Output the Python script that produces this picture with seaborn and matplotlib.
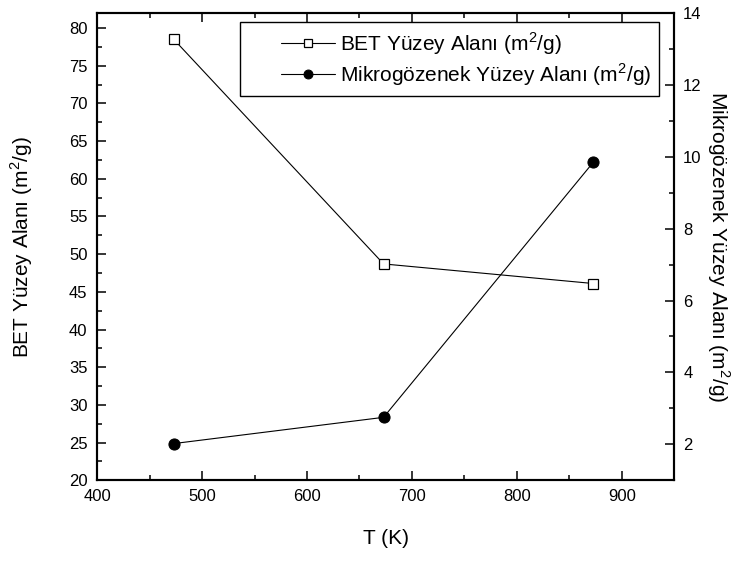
import numpy as np
import pandas as pd
import seaborn as sns
import matplotlib.pyplot as plt
from matplotlib.lines import Line2D
from matplotlib.legend_handler import HandlerLine2D
from matplotlib.ticker import MultipleLocator

sns.set_style("ticks")
plt.rcParams['font.family'] = ['Liberation Sans', 'DejaVu Sans']
plt.rcParams['mathtext.fontset'] = 'custom'
plt.rcParams['mathtext.rm'] = 'Liberation Sans'
plt.rcParams['text.color'] = 'black'
plt.rcParams['axes.labelcolor'] = 'black'
plt.rcParams['xtick.color'] = 'black'
plt.rcParams['ytick.color'] = 'black'

# Veriler
sicaklik = [473, 673, 873]
bet_alan = [78.5, 48.7, 46.1]
mikro_alan = [2.02, 2.75, 9.85]

df = pd.DataFrame({"T": sicaklik, "BET": bet_alan, "Mikro": mikro_alan})


# Origin tarzı lejant: çizgi kutunun solundan biraz içeride başlasın
class SagaKayikHandler(HandlerLine2D):
    def create_artists(self, legend, orig_handle, xdescent, ydescent,
                       width, height, fontsize, trans):
        kayma = 1.6 * fontsize
        return super().create_artists(legend, orig_handle, xdescent - kayma,
                                      ydescent, width - kayma, height,
                                      fontsize, trans)


fig = plt.figure(figsize=(7.36, 5.63), dpi=100)
ax = fig.add_axes([0.132, 0.147, 0.784, 0.830])
ax2 = ax.twinx()

sns.lineplot(data=df, x="T", y="BET", ax=ax, color="black", lw=0.8,
             marker="s", markersize=7, markerfacecolor="white",
             markeredgecolor="black", markeredgewidth=0.9,
             label="BET Yüzey Alanı (m$^2$/g)", legend=False)
sns.lineplot(data=df, x="T", y="Mikro", ax=ax2, color="black", lw=0.8,
             marker="o", markersize=8, markerfacecolor="black",
             markeredgecolor="black",
             label="Mikrogözenek Yüzey Alanı (m$^2$/g)", legend=False)

ax.set_xlim(400, 950)
ax.set_ylim(20, 82)
ax2.set_ylim(1, 14)

ax.xaxis.set_major_locator(MultipleLocator(100))
ax.xaxis.set_minor_locator(MultipleLocator(50))
ax.yaxis.set_major_locator(MultipleLocator(5))
ax.yaxis.set_minor_locator(MultipleLocator(2.5))
ax2.yaxis.set_major_locator(MultipleLocator(2))
ax2.yaxis.set_minor_locator(MultipleLocator(1))

ax.tick_params(axis="both", which="major", direction="in", length=6.5, width=1.1,
               labelsize=12, top=True, right=False)
ax.tick_params(axis="x", which="major", pad=6)
ax.tick_params(axis="y", which="major", pad=7)
ax.tick_params(axis="both", which="minor", direction="in", length=3.5, width=1.1,
               top=True, right=False)
ax2.tick_params(axis="y", which="major", direction="in", length=6.5, width=1.1,
                labelsize=12, pad=6.5)
ax2.tick_params(axis="y", which="minor", direction="in", length=3.5, width=1.1)

for a in (ax, ax2):
    for s in a.spines.values():
        s.set_linewidth(1.5)
        s.set_color("black")

ax.set_xlabel("T (K)", fontsize=15)
ax.xaxis.set_label_coords(0.5, -0.105)
ax.set_ylabel("BET Yüzey Alanı (m$^2$/g)", fontsize=15)
ax.yaxis.set_label_coords(-0.108, 0.5)
ax2.set_ylabel("Mikrogözenek Yüzey Alanı (m$^2$/g)", fontsize=15,
               rotation=-90, va="bottom")
ax2.yaxis.set_label_coords(1.053, 0.5)

h1, l1 = ax.get_legend_handles_labels()
h2, l2 = ax2.get_legend_handles_labels()
leg = ax2.legend(h1 + h2, l1 + l2, loc="upper right", fontsize=15,
                 frameon=True, fancybox=False, edgecolor="black",
                 handlelength=4.2, handletextpad=0.2, borderpad=0.4,
                 labelspacing=0.2, markerscale=0.8, framealpha=1,
                 borderaxespad=0, bbox_to_anchor=(0.974, 0.981),
                 handler_map={Line2D: SagaKayikHandler()})
leg.get_frame().set_linewidth(1.0)

fig.savefig("out.png", dpi=100)
